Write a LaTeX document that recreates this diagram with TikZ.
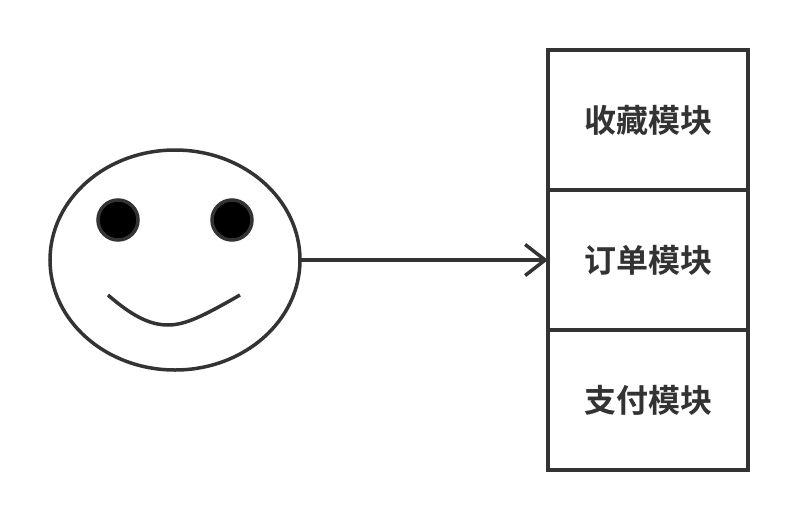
\documentclass[tikz,border=0pt]{standalone}
\usepackage{fontspec}
\usepackage{tikz}
\usetikzlibrary{arrows.meta,shapes.geometric}
\newfontfamily\cjk{Noto Sans CJK SC}[BoldFont={Noto Sans CJK SC Bold}]
\definecolor{inkgray}{HTML}{333333}

\begin{document}
\begin{tikzpicture}[x=1pt,y=-1pt,line width=3.5pt,draw=inkgray]
    \tikzstyle{face}=[ellipse,draw,minimum width=250pt,minimum height=220pt,inner sep=0pt,outer sep=0pt]
    \tikzstyle{eye}=[circle,draw,fill=black,minimum size=40pt,inner sep=0pt]
    \tikzstyle{module}=[rectangle,draw,minimum width=200pt,minimum height=140pt,inner sep=0pt,outer sep=0pt,
        text=inkgray,font=\cjk\bfseries\fontsize{32pt}{38pt}\selectfont]

    \useasboundingbox (0,0) rectangle (798,520);

    % Draw the face
    \node[face] (F) at (175,260) {};
    \node[eye] (E-1) at (118,220) {};
    \node[eye] (E-2) at (232,220) {};
    \draw (108,295) .. controls (132,316) and (150,325) .. (168,325)
        .. controls (186,325) and (205,315) .. (240,295);

    % Draw the modules
    \foreach \name / \y / \label in {1/120/收藏模块,2/260/订单模块,3/400/支付模块}
        \node[module] (M-\name) at (648,\y) {\label};

    % Connect the face with the order module
    \draw[-{Straight Barb[length=20pt,width=31pt]}] (F) -- (M-2);
\end{tikzpicture}
\end{document}
